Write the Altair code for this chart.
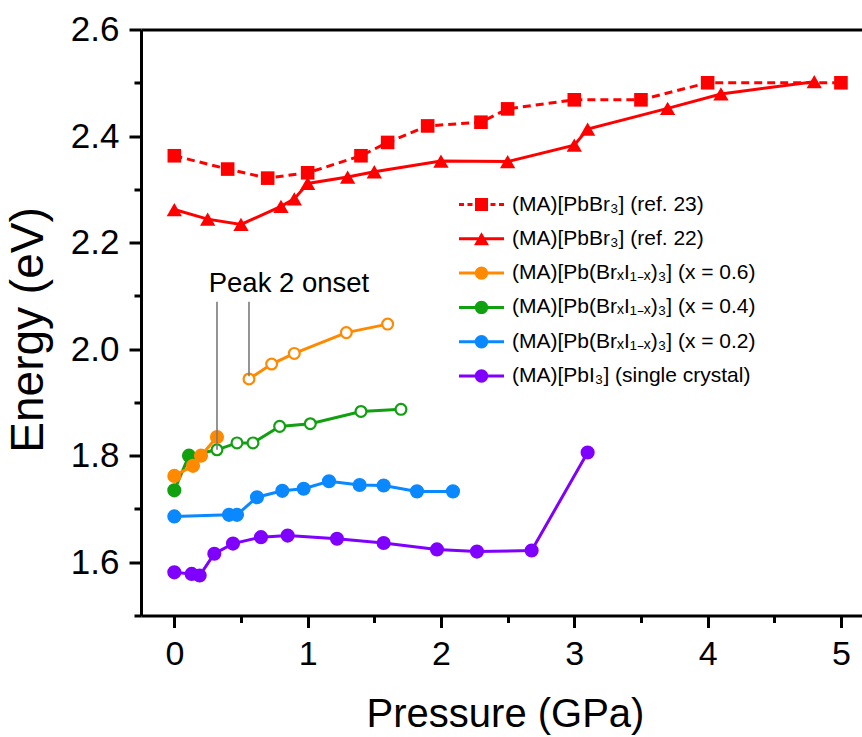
import altair as alt
import pandas as pd

FONT = "Liberation Sans"

# ---------------- data ----------------
names = [
    "(MA)[PbBr₃] (ref. 23)",
    "(MA)[PbBr₃] (ref. 22)",
    "(MA)[Pb(BrₓI₁₋ₓ)₃] (x = 0.6)",
    "(MA)[Pb(BrₓI₁₋ₓ)₃] (x = 0.4)",
    "(MA)[Pb(BrₓI₁₋ₓ)₃] (x = 0.2)",
    "(MA)[PbI₃] (single crystal)",
]
colors = ["#FF0000", "#FF0000", "#FF8A00", "#10A010", "#0A88FF", "#8000FF"]

p_ref23 = [0.0, 0.4, 0.7, 1.0, 1.4, 1.6, 1.9, 2.3, 2.5, 3.0, 3.5, 4.0, 5.0]
e_ref23 = [2.363, 2.338, 2.321, 2.331, 2.363, 2.388, 2.419, 2.426, 2.451, 2.468, 2.468, 2.500, 2.500]

p_ref22 = [0.0, 0.25, 0.5, 0.8, 0.9, 1.0, 1.3, 1.5, 2.0, 2.5, 3.0, 3.1, 3.7, 4.1, 4.8]
e_ref22 = [2.262, 2.244, 2.234, 2.268, 2.282, 2.311, 2.323, 2.333, 2.353, 2.352, 2.383, 2.413, 2.452, 2.479, 2.502]

p_x06 = [0.0, 0.14, 0.2, 0.32, 0.56, 0.73, 0.9, 1.29, 1.6]
e_x06 = [1.762, 1.781, 1.800, 1.835, 1.944, 1.972, 1.992, 2.031, 2.047]
open_x06 = [0, 0, 0, 0, 1, 1, 1, 1, 1]

p_x04 = [0.0, 0.11, 0.32, 0.47, 0.59, 0.79, 1.02, 1.40, 1.70]
e_x04 = [1.735, 1.800, 1.811, 1.824, 1.824, 1.855, 1.860, 1.883, 1.887]
open_x04 = [0, 0, 1, 1, 1, 1, 1, 1, 1]

p_x02 = [0.0, 0.41, 0.47, 0.62, 0.81, 0.97, 1.16, 1.39, 1.57, 1.82, 2.09]
e_x02 = [1.686, 1.689, 1.689, 1.722, 1.734, 1.738, 1.752, 1.745, 1.744, 1.733, 1.733]

p_pbi3 = [0.0, 0.13, 0.19, 0.30, 0.44, 0.65, 0.85, 1.22, 1.57, 1.97, 2.27, 2.68, 3.10]
e_pbi3 = [1.581, 1.578, 1.575, 1.616, 1.635, 1.647, 1.650, 1.644, 1.636, 1.624, 1.620, 1.622, 1.806]

peak_label = ["Peak 2 onset"]
peak_label_p = [0.86]
peak_label_e = [2.108]
peak_lines_p = [0.32, 0.56]
peak_lines_top = [2.089, 2.089]
peak_lines_bottom = [1.811, 1.949]

x_major = [0, 1, 2, 3, 4, 5]
x_minor = [0.5, 1.5, 2.5, 3.5, 4.5]
y_major = [1.6, 1.8, 2.0, 2.2, 2.4, 2.6]
y_minor = [1.5, 1.7, 1.9, 2.1, 2.3, 2.5]

# ---------------- helpers ----------------
xscale = alt.Scale(domain=[-0.25, 5.158], nice=False, zero=False)
yscale = alt.Scale(domain=[1.5, 2.6], nice=False, zero=False)


def df(p, e, op=None):
    d = pd.DataFrame({"p": p, "e": e})
    d["open"] = op if op is not None else [0] * len(p)
    return d


x_bottom = alt.Axis(
    orient="bottom", title="Pressure (GPa)", values=x_major, format="d", grid=False,
    tickSize=12, labelFontSize=34, titleFontSize=40, titlePadding=23, labelPadding=10,
    titleX=364,
)
x_bottom_minor = alt.Axis(
    orient="bottom", title=None, values=x_minor, labels=False, domain=False,
    grid=False, tickSize=7,
)
x_top = alt.Axis(orient="top", labels=False, ticks=False, title=None, grid=False)
y_left = alt.Axis(
    orient="left", title="Energy (eV)", values=y_major, format=".1f", grid=False,
    tickSize=12, labelFontSize=35, titleFontSize=46, titlePadding=18, labelPadding=10,
    titleY=300,
)
y_left_minor = alt.Axis(
    orient="left", title=None, values=y_minor, labels=False, domain=False,
    grid=False, tickSize=7,
)


def enc(xaxis=None, yaxis=None):
    return dict(
        x=alt.X("p:Q", scale=xscale, axis=xaxis),
        y=alt.Y("e:Q", scale=yscale, axis=yaxis),
    )


def line(d, color, xaxis=None, yaxis=None, dash=None, detail=None):
    kw = dict(color=color, strokeWidth=3)
    if dash:
        kw["strokeDash"] = dash
    e = enc(xaxis, yaxis)
    if detail:
        e["detail"] = detail
    return alt.Chart(d).mark_line(**kw).encode(**e)


def pts(d, color, shape, size, hollow=False, xaxis=None, yaxis=None):
    if hollow:
        m = alt.Chart(d).transform_filter("datum.open == 1").mark_point(
            shape=shape, size=size, filled=True, fill="white", stroke=color,
            strokeWidth=2.2, opacity=1)
    else:
        m = alt.Chart(d).transform_filter("datum.open == 0").mark_point(
            shape=shape, size=size, filled=True, color=color, opacity=1)
    return m.encode(**enc(xaxis, yaxis))


d23 = df(p_ref23, e_ref23)
d22 = df(p_ref22, e_ref22)
d06 = df(p_x06, e_x06, open_x06)
d04 = df(p_x04, e_x04, open_x04)
d02 = df(p_x02, e_x02)
dpb = df(p_pbi3, e_pbi3)

layers = [
    line(dpb, colors[5], xaxis=x_bottom, yaxis=y_left),
    pts(dpb, colors[5], "circle", 200, xaxis=x_bottom_minor, yaxis=y_left_minor),
    line(d02, colors[4]),
    pts(d02, colors[4], "circle", 200),
    line(d04, colors[3]),
    pts(d04, colors[3], "circle", 200),
    pts(d04, colors[3], "circle", 117, hollow=True),
    line(d06, colors[2], detail="open:N"),
    pts(d06, colors[2], "circle", 200),
    pts(d06, colors[2], "circle", 117, hollow=True),
    line(d22, colors[1], xaxis=x_top),
    pts(d22, colors[1], "triangle-up", 235),
    line(d23, colors[0], dash=[8, 5]),
    pts(d23, colors[0], "square", 185),
]

# annotation
ann_lines = pd.DataFrame({"p": peak_lines_p, "e": peak_lines_top, "e2": peak_lines_bottom})
layers.append(
    alt.Chart(ann_lines).mark_rule(color="#7a7a7a", strokeWidth=1.6).encode(
        x=alt.X("p:Q", scale=xscale, axis=None),
        y=alt.Y("e:Q", scale=yscale, axis=None),
        y2="e2:Q",
    )
)
ann_text = pd.DataFrame({"p": peak_label_p, "e": peak_label_e, "t": peak_label})
layers.append(
    alt.Chart(ann_text).mark_text(font=FONT, fontSize=27.5, align="center",
                                  baseline="alphabetic", color="black").encode(
        x=alt.X("p:Q", scale=xscale, axis=None),
        y=alt.Y("e:Q", scale=yscale, axis=None),
        text="t:N",
    )
)

# ---------------- legend (line + marker glyphs as custom symbol paths) ----------------
U = 7.0  # px per symbol unit (symbol size 196 -> 14 px box)


def f(v):
    return f"{v / U:.3f}"


def rect(x0, x1, h=1.5):
    return f"M{f(x0)},{f(-h)}L{f(x1)},{f(-h)}L{f(x1)},{f(h)}L{f(x0)},{f(h)}Z"


def sq(s=6.5):
    return rect(-s, s, s)


def circ(r=6.7):
    return f"M{f(r)},0A{f(r)},{f(r)} 0 1,1 {f(-r)},0A{f(r)},{f(r)} 0 1,1 {f(r)},0Z"


def tri(w=7.5, h=6.5):
    return f"M0,{f(-h)}L{f(w)},{f(h)}L{f(-w)},{f(h)}Z"


L = 22.5
sym_paths = [
    rect(-L, -17.5) + rect(-14, -9) + sq() + rect(9, 14) + rect(17.5, L),
    rect(-L, L) + tri(),
    rect(-L, L) + circ(),
    rect(-L, L) + circ(),
    rect(-L, L) + circ(),
    rect(-L, L) + circ(),
]

leg = alt.Legend(
    title=None, orient="none", legendX=330, legendY=164.5, padding=0,
    labelFont=FONT, labelFontSize=21, labelColor="black", labelLimit=500,
    labelOffset=20, rowPadding=12.3, symbolSize=196, symbolStrokeWidth=0,
    symbolOpacity=1,
)
leg_df = pd.DataFrame({"series": names, "p": [0.0] * 6, "e": [2.0] * 6})
layers.append(
    alt.Chart(leg_df).transform_filter("false").mark_point(
        filled=True, opacity=1, size=196).encode(
        x=alt.X("p:Q", scale=xscale, axis=None),
        y=alt.Y("e:Q", scale=yscale, axis=None),
        color=alt.Color("series:N", scale=alt.Scale(domain=names, range=colors), legend=leg),
        shape=alt.Shape("series:N", scale=alt.Scale(domain=names, range=sym_paths), legend=leg),
    )
)

chart = alt.layer(*layers).resolve_axis(x="independent", y="independent").properties(
    width=721, height=586,
    autosize=alt.AutoSizeParams(type="none"),
    padding={"left": 141, "top": 29.5, "right": 0, "bottom": 121.5},
).configure_view(stroke=None).configure_axis(
    labelFont=FONT, titleFont=FONT, labelColor="black", titleColor="black",
    titleFontWeight="normal", domainColor="black", domainWidth=3,
    tickColor="black", tickWidth=3, labelOverlap=False, labelFlush=False,
)

chart.save("out.html", embed_options={"renderer": "svg", "actions": False})
